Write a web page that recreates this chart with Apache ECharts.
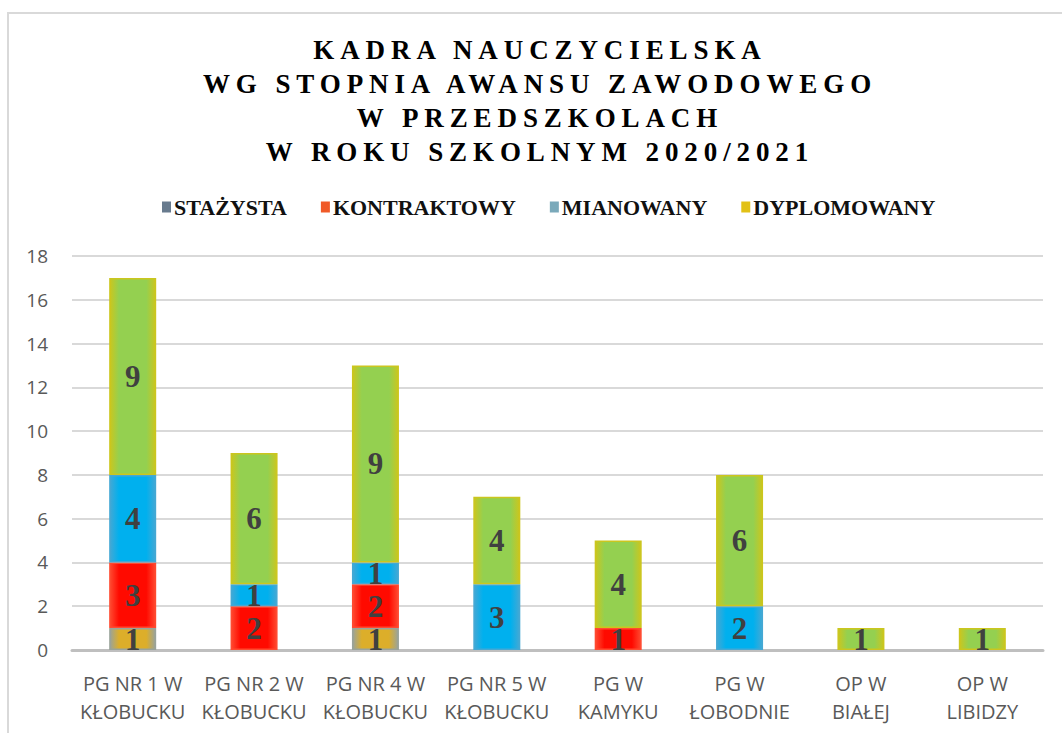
<!DOCTYPE html>
<html>
<head>
<meta charset="utf-8">
<script src="https://cdn.jsdelivr.net/npm/echarts@6/dist/echarts.min.js"></script>
<style>
  html, body { margin: 0; padding: 0; background: #fff; }
  #main { width: 1062px; height: 733px; }
  /* title is spaced out like in the original */
  #main text[style*="Times"], #main text[font-family*="Times"] { letter-spacing: 5.9px; }
</style>
</head>
<body>
<div id="main"></div>
<script>
var categories = ['PG NR 1 W\nKŁOBUCKU', 'PG NR 2 W\nKŁOBUCKU', 'PG NR 4 W\nKŁOBUCKU', 'PG NR 5 W\nKŁOBUCKU',
  'PG W\nKAMYKU', 'PG W\nŁOBODNIE', 'OP W\nBIAŁEJ', 'OP W\nLIBIDZY'];
var seriesNames = ['STAŻYSTA', 'KONTRAKTOWY', 'MIANOWANY', 'DYPLOMOWANY'];
var stazysta = [1, 0, 1, 0, 0, 0, 0, 0];
var kontraktowy = [3, 2, 2, 0, 1, 0, 0, 0];
var mianowany = [4, 1, 1, 3, 0, 2, 0, 0];
var dyplomowany = [9, 6, 9, 4, 4, 6, 1, 1];
var yTicks = [0, 2, 4, 6, 8, 10, 12, 14, 16, 18];

var titleText = 'KADRA NAUCZYCIELSKA\nWG STOPNIA AWANSU ZAWODOWEGO\nW PRZEDSZKOLACH\nW ROKU SZKOLNYM 2020/2021';

// [center, edge] like the excel path gradient
var fills = [
  ['#dcae2a', '#9aa39a'],
  ['#ff0a00', '#ff4a30'],
  ['#00b0ee', '#44a8d4'],
  ['#94d050', '#cbc61e']
];
var legendColors = ['#687b8e', '#f05a28', '#7aa9ba', '#e2c116'];

function barFill(pair) {
  return {
    type: 'linear', x: 0, y: 0, x2: 1, y2: 0,
    colorStops: [
      { offset: 0, color: pair[1] },
      { offset: 0.2, color: pair[0] },
      { offset: 0.8, color: pair[0] },
      { offset: 1, color: pair[1] }
    ]
  };
}

var chart = echarts.init(document.getElementById('main'), null, { renderer: 'svg' });

var allData = [stazysta, kontraktowy, mianowany, dyplomowany];
var series = [];
for (var i = 0; i < seriesNames.length; i++) {
  series.push({
    name: seriesNames[i],
    type: 'bar',
    stack: 'total',
    barWidth: 47,
    // empty segments are left out so they draw no border
    data: allData[i].map(function (v) { return v ? v : '-'; }),
    itemStyle: {
      color: barFill(fills[i]),
      borderColor: fills[i][1],
      borderWidth: 1.5
    },
    label: {
      show: true,
      position: 'inside',
      fontFamily: '"Liberation Serif", serif',
      fontWeight: 'bold',
      fontSize: 31,
      color: '#404040'
    }
  });
}

var option = {
  animation: false,
  backgroundColor: '#fff',
  graphic: [
    {
      type: 'rect',
      shape: { x: 8, y: 13, width: 1080, height: 760 },
      style: { fill: 'none', stroke: '#d9d9d9', lineWidth: 2 },
      silent: true
    },
    {
      type: 'text',
      x: 540,
      y: 33,
      style: {
        text: titleText,
        fontFamily: '"Times New Roman", "Liberation Serif", serif',
        fontWeight: 'bold',
        fontSize: 27,
        lineHeight: 34,
        align: 'center',
        verticalAlign: 'top',
        fill: '#000'
      }
    }
  ],
  legend: {
    left: 157,
    top: 191,
    itemWidth: 9,
    itemHeight: 11,
    itemGap: 34,
    icon: 'rect',
    textStyle: {
      fontFamily: '"Liberation Serif", serif',
      fontWeight: 'bold',
      fontSize: 22,
      color: '#111',
      padding: [0, 0, 0, -2]
    },
    data: seriesNames.map(function (n, i) {
      return { name: n, itemStyle: { color: legendColors[i], borderWidth: 0 } };
    })
  },
  grid: {
    left: 72,
    right: 19,
    top: 256,
    bottom: 83,
    containLabel: false
  },
  xAxis: {
    type: 'category',
    data: categories,
    axisLine: { lineStyle: { color: '#bfbfbf', width: 3 } },
    axisTick: { show: false },
    axisLabel: {
      fontFamily: '"Open Sans", sans-serif',
      fontSize: 20,
      color: '#595959',
      lineHeight: 28,
      margin: 19,
      interval: 0
    }
  },
  yAxis: {
    type: 'value',
    min: yTicks[0],
    max: yTicks[yTicks.length - 1],
    interval: 2,
    axisLine: { show: false },
    axisTick: { show: false },
    splitLine: { lineStyle: { color: '#d9d9d9', width: 2 } },
    axisLabel: {
      fontFamily: '"Open Sans", sans-serif',
      fontSize: 19,
      color: '#595959',
      margin: 24
    }
  },
  series: series
};

chart.setOption(option);
</script>
</body>
</html>
